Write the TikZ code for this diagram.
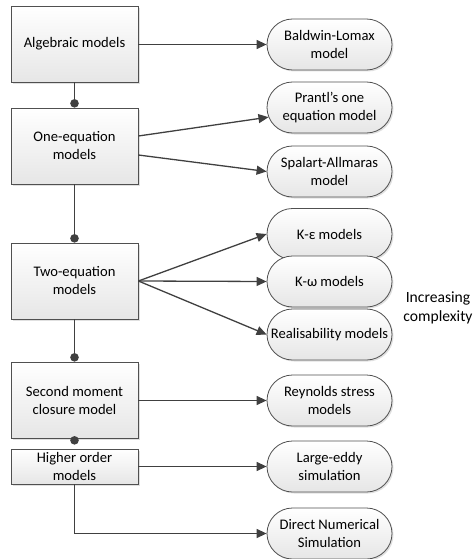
\documentclass[tikz,border=0pt]{standalone}
\usepackage{fontspec}
\setmainfont{Carlito}
\usetikzlibrary{shapes.misc,arrows.meta,shadows,calc}
\definecolor{linec}{HTML}{404040}
\definecolor{edgec}{HTML}{505050}
\definecolor{fillb}{HTML}{E6E6E6}
\begin{document}
\begin{tikzpicture}[x=1pt,y=-1pt,
  font=\fontsize{14.6}{18}\selectfont,
  modelbox/.style={draw=edgec,line width=0.8pt,top color=white,bottom color=fillb,
    minimum width=127pt,inner sep=2pt,align=center,
    drop shadow={shadow xshift=2pt,shadow yshift=-2pt,fill=black,opacity=0.12}},
  term/.style={rounded rectangle,draw=edgec,line width=0.8pt,top color=white,bottom color=fillb,
    minimum width=127pt,minimum height=51pt,inner sep=1pt,align=center,
    drop shadow={shadow xshift=1.5pt,shadow yshift=-1.5pt,fill=black,opacity=0.12}},
  conn/.style={draw=linec,line width=1.3pt},
  arr/.style={conn,-{Triangle[length=10pt,width=9pt]}},
  dotend/.style={conn,-{Circle[length=8.5pt,width=8.5pt]}}]
\useasboundingbox (0,0) rectangle (473,559);
% left boxes
\node[modelbox,minimum height=76pt] (alg) at (74.5,44) {Algebraic models};
\node[modelbox,minimum height=76pt] (one) at (74.5,146) {One-equation\\models};
\node[modelbox,minimum height=76pt] (two) at (74.5,281) {Two-equation\\models};
\node[modelbox,minimum height=76pt] (sec) at (74.5,400) {Second moment\\closure model};
\node[modelbox,minimum height=35pt] (hig) at (74.5,466.5) {Higher order\\models};
% right terminals
\node[term] (bl) at (329.5,44.5) {Baldwin-Lomax\\model};
\node[term] (pr) at (329.5,107.5) {Prantl’s one\\equation model};
\node[term] (sa) at (329.5,171.5) {Spalart-Allmaras\\model};
\node[term] (ke) at (329.5,234) {K-ε models};
\node[term] (kw) at (329.5,281.5) {K-ω models};
\node[term] (re) at (329.5,334.5) {Realisability models};
\node[term] (rs) at (329.5,400.5) {Reynolds stress\\models};
\node[term] (le) at (329.5,466.5) {Large-eddy\\simulation};
\node[term] (dn) at (329.5,533.5) {Direct Numerical\\Simulation};
\node[align=center,inner sep=0pt,font=\fontsize{15.6}{19}\selectfont] (ic) at (438,307.5) {Increasing\\complexity};
% vertical connectors
\draw[dotend] (alg.south) -- (one.north);
\draw[dotend] (one.south) -- (two.north);
\draw[dotend] (two.south) -- (sec.north);
\draw[dotend] (sec.south) -- ([yshift=4pt]hig.north);
% horizontal / slanted arrows
\draw[arr] (alg.east |- bl.west) -- (bl.west);
\draw[arr] ([yshift=10pt]one.east) -- (pr.189);
\draw[arr] ([yshift=-9pt]one.east) -- (sa.west);
\draw[arr] (two.east) -- (ke.west);
\draw[arr] (two.east) -- (kw.west);
\draw[arr] (two.east) -- (re.west);
\draw[arr] (sec.east |- rs.west) -- (rs.west);
\draw[arr] (hig.east) -- (le.west);
\draw[arr] (hig.south) |- (dn.west);
\end{tikzpicture}
\end{document}
